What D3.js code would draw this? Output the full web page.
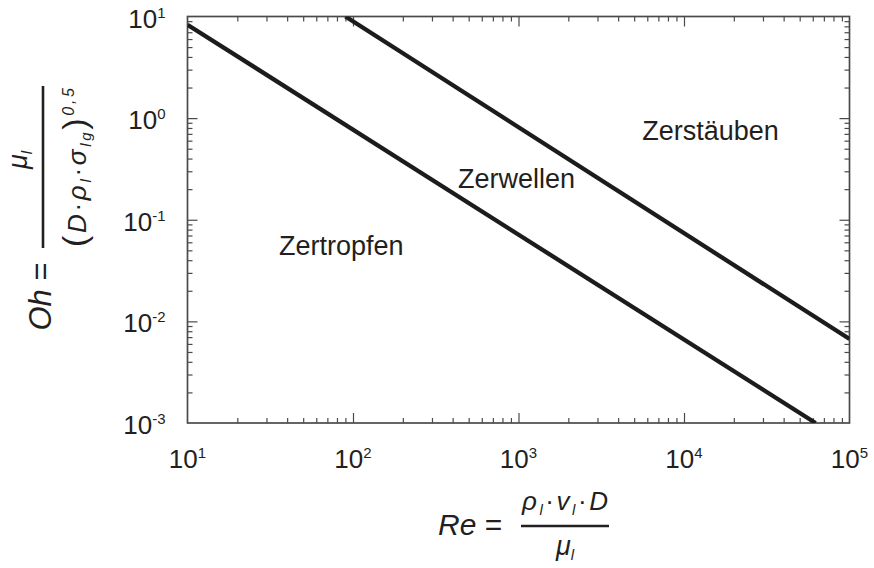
<!DOCTYPE html>
<html>
<head>
<meta charset="utf-8">
<script src="https://cdn.jsdelivr.net/npm/d3@7"></script>
<style>
  html, body { margin: 0; padding: 0; background: #fff; }
  svg { display: block; }
  text { font-family: "Liberation Sans", Arial, sans-serif; fill: #231f20; }
</style>
</head>
<body>
<svg id="chart" width="874" height="568"></svg>
<script>
// Reynolds axis ticks (decades) and their exponent labels
const reTickValues = [1e1, 1e2, 1e3, 1e4, 1e5];
const reTickExponents = ["1", "2", "3", "4", "5"];
// Ohnesorge axis ticks (decades) and their exponent labels
const ohTickValues = [1e-3, 1e-2, 1e-1, 1e0, 1e1];
const ohTickExponents = ["-3", "-2", "-1", "0", "1"];

// Boundary Zertropfen / Zerwellen
const dripBoundaryRe = [10, 62400];
const dripBoundaryOh = [8.3, 0.001];
// Boundary Zerwellen / Zerstäuben
const atomBoundaryRe = [90, 100000];
const atomBoundaryOh = [10, 0.0067];

// Regime labels, anchored in (Re, Oh)
const regionNames = ["Zertropfen", "Zerwellen", "Zerstäuben"];
const regionRe = [85, 973, 14450];
const regionOh = [0.045, 0.206, 0.614];

const svg = d3.select("#chart");
const plot = { left: 187.5, right: 849.5, top: 16.5, bottom: 423 };

const x = d3.scaleLog().domain([1e1, 1e5]).range([plot.left, plot.right]);
const y = d3.scaleLog().domain([1e-3, 1e1]).range([plot.bottom, plot.top]);

const axisColor = "#4a4a4a";
const isDecade = v => Math.abs(Math.log10(v) - Math.round(Math.log10(v))) < 1e-9;
const reMinor = x.ticks().filter(v => !isDecade(v));
const ohMinor = y.ticks().filter(v => !isDecade(v));
const reMajor = reTickValues.slice(1, -1);
const ohMajor = ohTickValues.slice(1, -1);

// Inward ticks on all four sides
function tickAxis(axisFn, scale, values, size, transform) {
  const g = svg.append("g")
    .attr("transform", transform)
    .call(axisFn(scale).tickValues(values).tickSize(size).tickFormat(""));
  g.select(".domain").remove();
  g.selectAll(".tick line").attr("stroke", axisColor).attr("stroke-width", 1.2);
}
tickAxis(d3.axisBottom, x, reMinor, -5, `translate(0,${plot.bottom})`);
tickAxis(d3.axisBottom, x, reMajor, -10, `translate(0,${plot.bottom})`);
tickAxis(d3.axisTop, x, reMinor, -5, `translate(0,${plot.top})`);
tickAxis(d3.axisTop, x, reMajor, -10, `translate(0,${plot.top})`);
tickAxis(d3.axisLeft, y, ohMinor, -5, `translate(${plot.left},0)`);
tickAxis(d3.axisLeft, y, ohMajor, -10, `translate(${plot.left},0)`);
tickAxis(d3.axisRight, y, ohMinor, -5, `translate(${plot.right},0)`);
tickAxis(d3.axisRight, y, ohMajor, -10, `translate(${plot.right},0)`);

// Frame
svg.append("rect")
  .attr("x", plot.left).attr("y", plot.top)
  .attr("width", plot.right - plot.left).attr("height", plot.bottom - plot.top)
  .attr("fill", "none").attr("stroke", axisColor).attr("stroke-width", 1.7);

// Boundary lines, clipped to the frame
svg.append("clipPath").attr("id", "plot-clip").append("rect")
  .attr("x", plot.left).attr("y", plot.top)
  .attr("width", plot.right - plot.left).attr("height", plot.bottom - plot.top);

const line = d3.line().x(d => x(d[0])).y(d => y(d[1]));
const boundaries = [
  d3.zip(dripBoundaryRe, dripBoundaryOh),
  d3.zip(atomBoundaryRe, atomBoundaryOh)
];
svg.append("g").attr("clip-path", "url(#plot-clip)")
  .selectAll("path").data(boundaries).join("path")
  .attr("d", line)
  .attr("fill", "none")
  .attr("stroke", "#1c1c1c")
  .attr("stroke-width", 4.3);

// Regime labels
svg.append("g").selectAll("text").data(regionNames).join("text")
  .attr("x", (d, i) => x(regionRe[i]))
  .attr("y", (d, i) => y(regionOh[i]))
  .attr("text-anchor", "middle")
  .attr("font-size", 27)
  .text(d => d);

// Power-of-ten tick labels
function powerLabel(sel, exp) {
  sel.append("tspan").attr("font-size", 26).text("10");
  sel.append("tspan").attr("font-size", 15).attr("dy", -10).text(exp);
}
svg.append("g").selectAll("text").data(reTickValues).join("text")
  .attr("x", d => x(d))
  .attr("y", plot.bottom + 45)
  .attr("text-anchor", "middle")
  .each(function(d, i) { powerLabel(d3.select(this), reTickExponents[i]); });

svg.append("g").selectAll("text").data(ohTickValues).join("text")
  .attr("x", plot.left - 22)
  .attr("y", d => y(d) + 11)
  .attr("text-anchor", "end")
  .each(function(d, i) { powerLabel(d3.select(this), ohTickExponents[i]); });

// Rich text helper: pieces of [text, size, baseline shift, italic]
function richText(parent, pieces, attrs) {
  const t = parent.append("text").attr("text-anchor", "middle");
  Object.entries(attrs || {}).forEach(([k, v]) => t.attr(k, v));
  let shift = 0;
  pieces.forEach(([s, size, dy, italic]) => {
    const ts = t.append("tspan").attr("font-size", size).text(s);
    if (italic) ts.attr("font-style", "italic");
    if (dy !== shift) { ts.attr("dy", dy - shift); shift = dy; }
  });
  return t;
}

// x axis title: Re = ρl·vl·D / μl
svg.append("text")
  .attr("x", 438).attr("y", 535)
  .attr("font-size", 30)
  .html('<tspan font-style="italic">Re</tspan> =');
svg.append("line")
  .attr("x1", 521).attr("x2", 609).attr("y1", 526).attr("y2", 526)
  .attr("stroke", "#231f20").attr("stroke-width", 2.6);
richText(svg, [
  ["ρ", 26, 0, true], ["l", 15, 5, true], ["·", 26, 0, false],
  ["v", 26, 0, true], ["l", 15, 5, true], ["·", 26, 0, false],
  ["D", 26, 0, true]
], { x: 565, y: 510, textLength: 86, lengthAdjust: "spacing" });
richText(svg, [["μ", 27, 0, true], ["l", 15, 5, true]], { x: 565, y: 555 });

// y axis title: Oh = μl / (D·ρl·σlg)^0,5
const ohTitle = svg.append("g").attr("transform", "translate(51,296.5) rotate(-90)");
ohTitle.append("text")
  .attr("text-anchor", "middle")
  .attr("font-size", 31)
  .html('<tspan font-style="italic">Oh</tspan> =');
svg.append("line")
  .attr("x1", 43).attr("x2", 43).attr("y1", 86).attr("y2", 248)
  .attr("stroke", "#231f20").attr("stroke-width", 2.6);
const ohNum = svg.append("g").attr("transform", "translate(27,160) rotate(-90)");
richText(ohNum, [["μ", 27, 0, true], ["l", 15, 5, true]], { x: 0, y: 0 });
const ohDen = svg.append("g").attr("transform", "translate(86,167.5) rotate(-90)");
richText(ohDen, [
  ["(", 34, 0, false], ["D", 26, 0, true], ["·", 26, 0, false],
  ["ρ", 26, 0, true], ["l", 15, 5, true], ["·", 26, 0, false],
  ["σ", 26, 0, true], ["lg", 15, 5, true], [")", 34, 0, false],
  ["0,5", 16, -12, true]
], { x: 0, y: 0, textLength: 159, lengthAdjust: "spacing" });
</script>
</body>
</html>
